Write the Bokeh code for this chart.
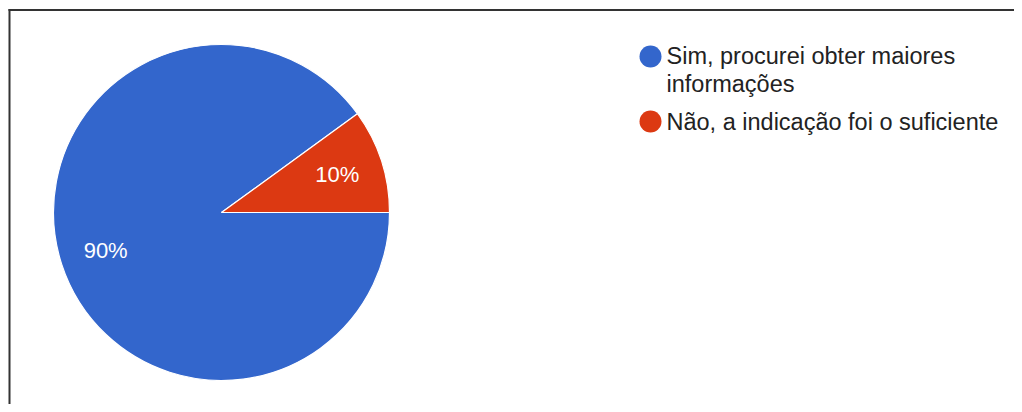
import math
from bokeh.plotting import figure
from bokeh.models import Range1d, ColumnDataSource
from bokeh.core.properties import value
from bokeh.embed import file_html
from bokeh.resources import INLINE

categories = ["Sim, procurei obter maiores informações", "Não, a indicação foi o suficiente"]
legend_lines = [["Sim, procurei obter maiores", "informações"], ["Não, a indicação foi o suficiente"]]
values = [90, 10]
colors = ["#3366CC", "#DC3912"]

W, H = 1014, 404
p = figure(width=W, height=H, x_range=Range1d(0, W), y_range=Range1d(0, H),
           output_backend="svg", toolbar_location=None, min_border=0)
p.axis.visible = False
p.grid.visible = False
p.outline_line_color = None
p.background_fill_color = "white"

def Y(screen_y):
    return H - screen_y

cx, cy, R = 221, Y(212), 168

total = sum(values)
fr = [v / total for v in values]
red_end = 2 * math.pi * fr[1]
starts = [red_end, 0.0]
ends = [2 * math.pi, red_end]
src = ColumnDataSource(dict(start=starts, end=ends, color=colors))
p.wedge(x=cx, y=cy, radius=R, start_angle="start", end_angle="end",
        fill_color="color", line_color="white", line_width=1.2, source=src)

# percentage labels
lx, ly, lt = [], [], []
for s, e, v in zip(starts, ends, values):
    m = (s + e) / 2
    lx.append(cx + 0.725 * R * math.cos(m))
    ly.append(cy + 0.725 * R * math.sin(m))
    lt.append(f"{round(100 * v / total)}%")
p.text(x=lx, y=ly, text=lt, text_color="white", text_font=value("Liberation Sans"),
       text_font_size="22px", text_align="center", text_baseline="middle")

# legend
leg_marker_y = [Y(56), Y(121)]
p.scatter(x=[650, 650], y=leg_marker_y, size=22, marker="circle",
          fill_color=colors, line_color=None)
tx, ty, tt = [], [], []
line_ys = [[Y(55), Y(83)], [Y(121)]]
for lines, ys in zip(legend_lines, line_ys):
    for t, yy in zip(lines, ys):
        tx.append(666)
        ty.append(yy)
        tt.append(t)
p.text(x=tx, y=ty, text=tt, text_color="#222222", text_font=value("Liberation Sans"),
       text_font_size="23.5px", text_align="left", text_baseline="middle")

# frame border (top and left edges visible)
p.segment(x0=[8, 9], y0=[Y(9.5), Y(8.5)], x1=[W, 9], y1=[Y(9.5), 0],
          line_color="#333333", line_width=2)

open("out.html", "w").write(file_html(p, INLINE))
